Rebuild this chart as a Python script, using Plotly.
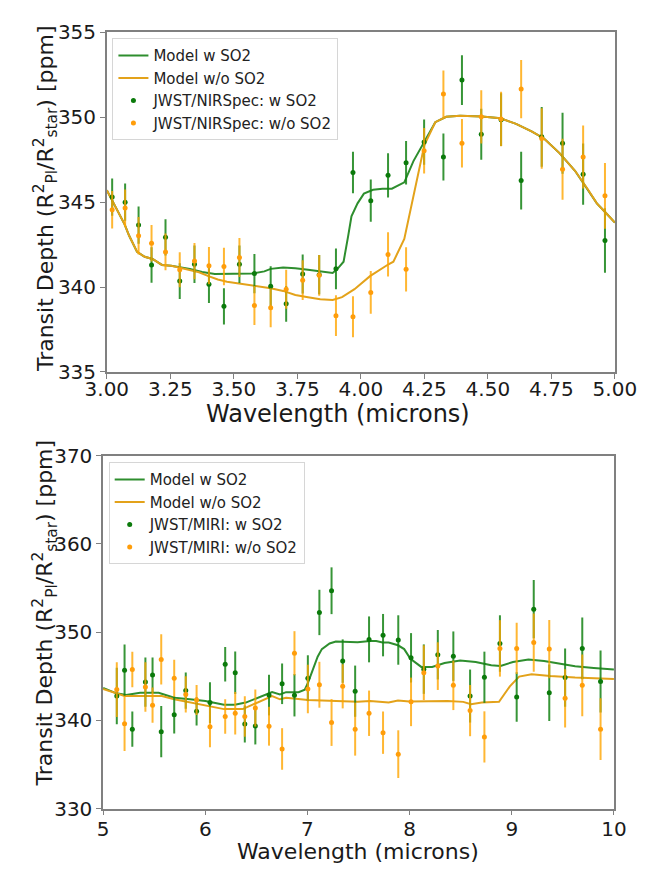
import plotly.graph_objects as go

FONT = "DejaVu Sans"

# ---------------- NIRSpec panel (3-5 micron) ----------------
wl_nirspec = [3.021, 3.072, 3.125, 3.176, 3.231, 3.287, 3.345, 3.402, 3.461, 3.522,
              3.581, 3.645, 3.706, 3.771, 3.836, 3.902, 3.969, 4.039, 4.107, 4.178,
              4.249, 4.325, 4.398, 4.474, 4.552, 4.631, 4.712, 4.794, 4.875, 4.961]
nirspec_w = [345.3, 345.0, 343.65, 341.3, 342.93, 340.35, 341.34, 340.16, 338.86, 341.34,
             340.79, 340.04, 339.01, 340.77, 340.73, 341.07, 346.75, 345.09, 346.58, 347.32,
             348.54, 347.66, 352.19, 349.0, 349.86, 346.27, 348.85, 348.47, 346.65, 342.74]
nirspec_w_err = [1.1, 1.1, 1.1, 1.05, 1.07, 1.05, 1.1, 1.1, 1.07, 1.1,
                 1.15, 1.18, 1.05, 1.15, 1.15, 1.2, 1.22, 1.25, 1.3, 1.28,
                 1.33, 1.38, 1.47, 1.5, 1.55, 1.7, 1.76, 1.8, 1.8, 1.9]
nirspec_wo = [344.55, 344.65, 343.02, 342.58, 342.07, 341.02, 341.53, 341.26, 341.21, 341.74,
              338.91, 338.78, 339.87, 340.40, 340.69, 338.31, 338.25, 339.68, 341.92, 341.04,
              348.03, 351.37, 348.47, 350.03, 349.9, 351.66, 348.75, 346.94, 347.66, 345.37]
nirspec_wo_err = [1.1, 1.1, 1.1, 1.07, 1.08, 1.03, 1.07, 1.1, 1.1, 1.15,
                  1.15, 1.15, 1.15, 1.17, 1.2, 1.2, 1.21, 1.26, 1.3, 1.3,
                  1.34, 1.38, 1.43, 1.57, 1.6, 1.72, 1.78, 1.8, 1.86, 1.93]

nirspec_model_w_x = [3.0, 3.03, 3.07, 3.088, 3.119, 3.149, 3.18, 3.217, 3.253, 3.327,
                     3.375, 3.425, 3.486, 3.571, 3.62, 3.645, 3.694, 3.742, 3.792, 3.84,
                     3.889, 3.908, 3.932, 3.95, 3.963, 3.987, 4.012, 4.048, 4.085, 4.122,
                     4.171, 4.207, 4.25, 4.293, 4.336, 4.391, 4.476, 4.55, 4.611, 4.672,
                     4.721, 4.782, 4.843, 4.892, 4.929, 4.953, 5.0]
nirspec_model_w_y = [345.7, 344.8, 343.69, 343.02, 342.07, 341.78, 341.65, 341.30, 341.25, 341.07,
                     340.88, 340.77, 340.79, 340.79, 340.92, 341.07, 341.15, 341.11, 341.02, 340.92,
                     340.83, 341.07, 341.49, 343.0, 344.17, 344.93, 345.5, 345.73, 345.79, 345.79,
                     346.17, 347.42, 348.56, 349.71, 350.03, 350.09, 350.05, 349.94, 349.61, 349.17,
                     348.75, 347.89, 346.85, 345.79, 344.93, 344.55, 343.79]
nirspec_model_wo_x = [3.0, 3.03, 3.07, 3.088, 3.119, 3.149, 3.18, 3.217, 3.253, 3.284,
                      3.327, 3.363, 3.40, 3.437, 3.473, 3.547, 3.596, 3.645, 3.694, 3.742,
                      3.792, 3.84, 3.889, 3.926, 3.975, 4.036, 4.109, 4.128, 4.171, 4.201,
                      4.232, 4.25, 4.293, 4.336, 4.391, 4.476, 4.55, 4.611, 4.672, 4.721,
                      4.782, 4.843, 4.892, 4.929, 4.953, 5.0]
nirspec_model_wo_y = [345.7, 344.8, 343.69, 343.02, 342.07, 341.78, 341.65, 341.30, 341.25, 341.15,
                      341.02, 340.87, 340.64, 340.44, 340.31, 340.16, 340.02, 339.93, 339.77, 339.53,
                      339.40, 339.28, 339.24, 339.40, 339.87, 340.64, 341.34, 341.49, 342.83, 345.0,
                      347.22, 348.37, 349.71, 350.03, 350.09, 350.05, 349.94, 349.61, 349.17, 348.75,
                      347.89, 346.85, 345.79, 344.93, 344.55, 343.79]

# ---------------- MIRI panel (5-10 micron) ----------------
wl_miri = [5.134, 5.21, 5.286, 5.414, 5.484, 5.569, 5.696, 5.809, 5.915, 6.046,
           6.195, 6.293, 6.387, 6.49, 6.624, 6.752, 6.873, 7.004, 7.117, 7.236,
           7.345, 7.467, 7.603, 7.74, 7.889, 8.014, 8.139, 8.276, 8.428, 8.592,
           8.732, 8.884, 9.048, 9.215, 9.367, 9.522, 9.69, 9.869]
miri_w = [342.75, 345.68, 339.0, 344.33, 345.13, 338.71, 340.62, 343.37, 341.02, 342.01,
          346.35, 345.39, 339.59, 339.37, 342.86, 344.14, 342.84, 344.77, 352.22, 354.68,
          346.71, 343.3, 349.17, 349.65, 349.1, 347.08, 345.8, 347.43, 347.27, 342.75,
          344.88, 348.70, 342.64, 352.59, 343.11, 344.84, 348.15, 344.40]
miri_w_err = [3.2, 2.9, 2.0, 2.8, 2.0, 2.9, 2.1, 2.05, 1.6, 2.3,
              1.95, 2.4, 2.1, 2.1, 2.3, 2.3, 2.4, 2.6, 2.57, 2.65,
              2.46, 2.9, 2.6, 2.4, 2.8, 2.8, 2.8, 2.8, 2.8, 3.0,
              2.9, 3.2, 2.8, 3.3, 3.2, 3.3, 3.5, 3.5]
miri_wo = [343.48, 339.62, 345.76, 343.77, 341.72, 346.90, 344.77, 342.93, 342.31, 339.26,
           340.43, 340.80, 340.43, 341.39, 339.33, 336.76, 347.6, 343.55, 344.03, 339.75,
           343.85, 339.0, 340.8, 338.6, 336.17, 342.09, 345.4, 346.14, 343.96, 341.10,
           338.12, 348.15, 348.15, 348.81, 348.07, 342.49, 343.96, 339.0]
miri_wo_err = [3.1, 3.1, 2.0, 2.8, 2.0, 2.85, 2.1, 2.05, 1.7, 2.3,
               1.95, 2.4, 2.3, 2.1, 2.2, 2.35, 2.5, 2.75, 2.6, 2.65,
               2.5, 3.0, 2.57, 2.4, 2.7, 2.75, 3.1, 2.7, 2.8, 2.9,
               2.9, 3.2, 2.9, 3.3, 3.3, 3.3, 3.5, 3.5]

miri_model_w_x = [5.0, 5.119, 5.225, 5.362, 5.544, 5.696, 5.849, 6.001, 6.183, 6.289,
                  6.396, 6.503, 6.594, 6.654, 6.731, 6.791, 6.913, 6.974, 7.004, 7.035,
                  7.065, 7.10, 7.141, 7.187, 7.217, 7.278, 7.339, 7.491, 7.613, 7.673,
                  7.735, 7.795, 7.886, 7.947, 8.008, 8.114, 8.221, 8.342, 8.495, 8.647,
                  8.799, 8.89, 9.012, 9.163, 9.316, 9.468, 9.62, 9.802, 10.0]
miri_model_w_y = [343.66, 343.11, 342.86, 343.11, 343.11, 342.56, 342.38, 342.20, 341.76, 341.76,
                  342.01, 342.49, 342.93, 343.19, 342.93, 343.19, 343.19, 343.48, 344.22, 345.2,
                  346.3, 347.2, 348.07, 348.5, 348.70, 348.92, 348.92, 348.85, 348.99, 348.99,
                  348.81, 348.81, 348.5, 348.07, 346.97, 346.05, 346.05, 346.50, 346.79, 346.61,
                  346.23, 346.16, 346.61, 346.90, 346.72, 346.42, 346.12, 345.94, 345.76]
miri_model_wo_x = [5.0, 5.21, 5.484, 5.575, 5.696, 5.849, 6.031, 6.183, 6.366, 6.487,
                   6.594, 6.654, 6.731, 6.791, 7.004, 7.247, 7.491, 7.613, 7.795, 7.886,
                   7.998, 8.373, 8.525, 8.601, 8.707, 8.875, 8.981, 9.072, 9.194, 9.377,
                   9.62, 10.0]
miri_model_wo_y = [343.55, 342.75, 342.75, 342.75, 342.38, 342.01, 341.65, 341.27, 341.27, 341.90,
                   342.49, 342.75, 342.38, 342.56, 342.31, 342.2, 342.09, 342.2, 342.01, 342.25,
                   342.14, 342.20, 342.09, 341.83, 342.01, 342.09, 343.85, 344.95, 345.21, 345.02,
                   344.84, 344.69]

# colours
GREEN_LINE = "#2e8e2e"
ORANGE_LINE = "#e3a21a"
GREEN_PT = "#0b7a0b"
ORANGE_PT = "#ff9d0a"
GREEN_ERR = "rgba(20,130,20,0.85)"
ORANGE_ERR = "rgba(255,165,0,0.8)"

fig = go.Figure()


def add_panel(xa, ya, legend, instrument, wl, w, werr, wo, woerr, mwx, mwy, mwox, mwoy):
    fig.add_trace(go.Scatter(x=mwx, y=mwy, mode="lines", name="Model w SO2",
                             line=dict(color=GREEN_LINE, width=2),
                             xaxis=xa, yaxis=ya, legend=legend))
    fig.add_trace(go.Scatter(x=mwox, y=mwoy, mode="lines", name="Model w/o SO2",
                             line=dict(color=ORANGE_LINE, width=2),
                             xaxis=xa, yaxis=ya, legend=legend))
    fig.add_trace(go.Scatter(x=wl, y=w, mode="markers", name=f"JWST/{instrument}: w SO2",
                             marker=dict(color=GREEN_PT, size=5),
                             error_y=dict(type="data", array=werr, color=GREEN_ERR,
                                          thickness=2, width=0),
                             xaxis=xa, yaxis=ya, legend=legend))
    fig.add_trace(go.Scatter(x=wl, y=wo, mode="markers", name=f"JWST/{instrument}: w/o SO2",
                             marker=dict(color=ORANGE_PT, size=5),
                             error_y=dict(type="data", array=woerr, color=ORANGE_ERR,
                                          thickness=2, width=0),
                             xaxis=xa, yaxis=ya, legend=legend))


add_panel("x", "y", "legend", "NIRSpec", wl_nirspec, nirspec_w, nirspec_w_err,
          nirspec_wo, nirspec_wo_err, nirspec_model_w_x, nirspec_model_w_y,
          nirspec_model_wo_x, nirspec_model_wo_y)
add_panel("x2", "y2", "legend2", "MIRI", wl_miri, miri_w, miri_w_err,
          miri_wo, miri_wo_err, miri_model_w_x, miri_model_w_y,
          miri_model_wo_x, miri_model_wo_y)

W, H = 649, 877


def px_x(p):
    return p / W


def px_y(p):
    return 1 - p / H


axis_common = dict(showgrid=False, zeroline=False, showline=True, mirror=True,
                   linecolor="#808080", linewidth=1.5, ticks="outside", ticklen=5,
                   tickwidth=1.2, tickcolor="#808080",
                   tickfont=dict(family=FONT, size=20, color="#1a1a1a"))

legend_common = dict(xanchor="left", yanchor="top", bgcolor="rgba(255,255,255,0.85)",
                     bordercolor="#d6d6d6", borderwidth=1, tracegroupgap=0,
                     font=dict(family=FONT, size=15, color="#222222"))

ytitle = "Transit Depth (R<sup>2</sup><sub>Pl</sub>/R<sup>2</sup><sub>star</sub>) [ppm]"


def label(text, cx, cy, size, angle=0):
    return dict(text=text, textangle=angle, x=px_x(cx), y=px_y(cy), xref="paper", yref="paper",
                xanchor="center", yanchor="middle", showarrow=False,
                font=dict(family=FONT, size=size, color="#1a1a1a"))


fig.update_layout(
    width=W, height=H, margin=dict(l=0, r=0, t=0, b=0),
    plot_bgcolor="white", paper_bgcolor="white",
    font=dict(family=FONT),
    xaxis=dict(domain=[px_x(91), px_x(636)], anchor="y", range=[3.0, 5.0],
               tickmode="linear", tick0=3.0, dtick=0.25, tickformat=".2f",
               ticklabelstandoff=-7, **axis_common),
    yaxis=dict(domain=[px_y(370), px_y(21)], anchor="x", range=[335, 355],
               tickmode="linear", tick0=335, dtick=5, **axis_common),
    xaxis2=dict(domain=[px_x(87), px_x(635)], anchor="y2", range=[5, 10],
                tickmode="linear", tick0=5, dtick=1, ticklabelstandoff=-3, **axis_common),
    yaxis2=dict(domain=[px_y(819), px_y(456)], anchor="x2", range=[330, 370],
                tickmode="linear", tick0=330, dtick=10, **axis_common),
    legend=dict(x=px_x(97), y=px_y(27), **legend_common),
    legend2=dict(x=px_x(93), y=px_y(463), **legend_common),
    annotations=[
        label("Wavelength (microns)", 339, 413, 24),
        label("Wavelength (microns)", 360, 863, 22),
        label(ytitle, 25, 192, 22, -90),
        label(ytitle, 25, 618, 22, -90),
    ],
)

# the page body keeps no default margin so the figure sits at the window's corner
fig.write_html("out.html", post_script="document.body.style.margin = '0px';")
